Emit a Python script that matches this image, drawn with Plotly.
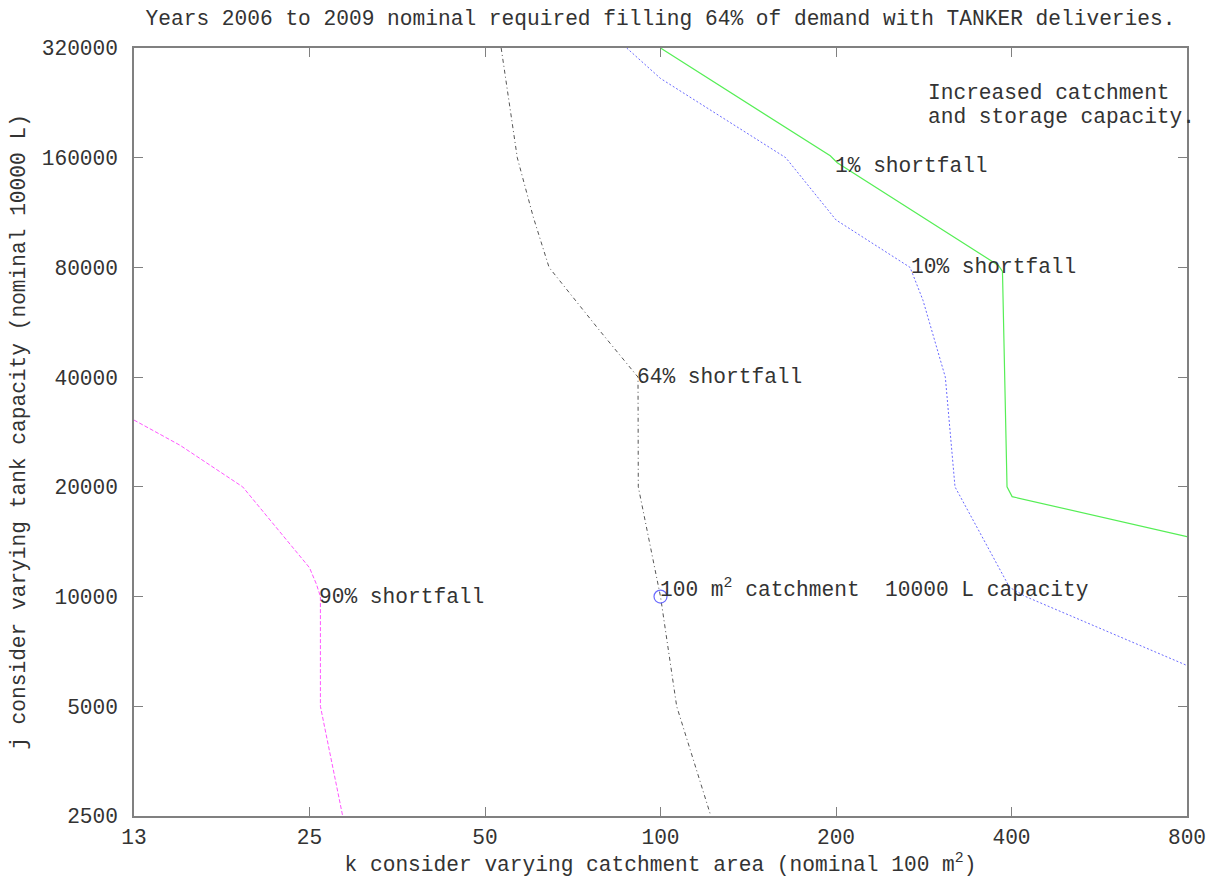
import math
import plotly.graph_objects as go

# ---- data ----
x_ticks = [12.5, 25, 50, 100, 200, 400, 800]
x_tick_text = ["13", "25", "50", "100", "200", "400", "800"]
y_ticks = [2500, 5000, 10000, 20000, 40000, 80000, 160000, 320000]
y_tick_text = ["2500", "5000", "10000", "20000", "40000", "80000", "160000", "320000"]

s90_x = [12.5, 15.0, 19.2, 25.0, 25.7, 26.1, 26.1, 28.5]
s90_y = [30500, 26000, 20000, 12000, 10800, 10000, 5000, 2500]

s64_x = [53.3, 54.9, 56.8, 60.5, 64.4, 78.4, 91.5, 91.6, 100, 106.6, 122]
s64_y = [320000, 230000, 160000, 110000, 80000, 54000, 40000, 20000, 10000, 5000, 2500]

s10_x = [87.5, 100, 164, 200, 268, 282, 308, 320, 397, 423, 800]
s10_y = [320000, 264000, 160000, 108000, 80000, 65000, 40000, 20000, 10600, 10000, 6470]

s1_x = [100, 195.5, 201, 380, 386, 393, 401, 800]
s1_y = [320000, 162000, 155000, 81000, 78000, 20000, 18800, 14600]

nominal_x = [100]
nominal_y = [10000]

label_x = [26.1, 91.5, 270, 200]
label_y = [10000, 40000, 80000, 152000]
label_text = ["90% shortfall", "64% shortfall", "10% shortfall", "1% shortfall"]

note_x = [285, 285]
note_y = [241000, 207000]
note_text = ["Increased catchment", "and storage capacity."]

FONT = "Liberation Mono, Courier New, monospace"
FS = 21.2
TXT = "#333333"
AX = "#808080"
L = math.log10

fig = go.Figure()
fig.add_trace(go.Scatter(x=s90_x, y=s90_y, mode="lines",
                         line=dict(color="#ff55ff", width=1, dash="4px,2px"), hoverinfo="skip"))
fig.add_trace(go.Scatter(x=s64_x, y=s64_y, mode="lines",
                         line=dict(color="#555555", width=1, dash="4px,3px,1px,3px"), hoverinfo="skip"))
fig.add_trace(go.Scatter(x=s10_x, y=s10_y, mode="lines",
                         line=dict(color="#6a6aff", width=1, dash="2px,2px"), hoverinfo="skip"))
fig.add_trace(go.Scatter(x=s1_x, y=s1_y, mode="lines",
                         line=dict(color="#55ee55", width=1.2, dash="solid"), hoverinfo="skip"))
fig.add_trace(go.Scatter(x=nominal_x, y=nominal_y, mode="markers",
                         marker=dict(symbol="circle-open", size=13, color="#6a6aff",
                                     line=dict(width=1.2, color="#6a6aff")), hoverinfo="skip"))

for lx, ly, lt in zip(label_x, label_y, label_text):
    fig.add_annotation(x=L(lx), y=L(ly), xref="x", yref="y", text=lt, showarrow=False,
                       xanchor="left", yanchor="middle", xshift=-3,
                       font=dict(family=FONT, size=FS, color=TXT))

fig.add_annotation(x=L(100), y=L(10000), xref="x", yref="y",
                   text="100 m<sup>2</sup> catchment\u00a0\u00a010000 L capacity",
                   showarrow=False, xanchor="left", yanchor="middle", xshift=-3, yshift=8,
                   font=dict(family=FONT, size=FS, color=TXT))

for nx, ny, nt in zip(note_x, note_y, note_text):
    fig.add_annotation(x=L(nx), y=L(ny), xref="x", yref="y", text=nt,
                       showarrow=False, xanchor="left", yanchor="middle",
                       font=dict(family=FONT, size=FS, color=TXT))

fig.update_layout(
    width=1207, height=885,
    margin=dict(l=134, r=20, t=48, b=69),
    paper_bgcolor="white", plot_bgcolor="white",
    showlegend=False,
    font=dict(family=FONT, size=FS, color=TXT),
    title=dict(text="Years 2006 to 2009 nominal required filling 64% of demand with TANKER deliveries.",
               x=0.5, xref="paper", y=1 - 18 / 885, yref="container", yanchor="middle",
               font=dict(family=FONT, size=FS, color=TXT)),
)
fig.update_xaxes(type="log", range=[L(12.5), L(800)], automargin=False,
                 tickvals=x_ticks, ticktext=x_tick_text,
                 ticks="inside", ticklen=9, tickcolor=AX, tickwidth=1.2,
                 showline=True, linecolor=AX, linewidth=1.5, mirror="allticks",
                 showgrid=False, zeroline=False, ticklabelstandoff=1,
                 title=dict(text="k consider varying catchment area (nominal 100 m<sup>2</sup>)",
                            standoff=2, font=dict(family=FONT, size=FS, color=TXT)))
fig.update_yaxes(type="log", range=[L(2500), L(320000)], automargin=False,
                 tickvals=y_ticks, ticktext=y_tick_text,
                 ticks="inside", ticklen=9, tickcolor=AX, tickwidth=1.2,
                 showline=True, linecolor=AX, linewidth=1.5, mirror="allticks",
                 showgrid=False, zeroline=False, ticklabelstandoff=10,
                 title=dict(text="j consider varying tank capacity (nominal 10000 L)",
                            standoff=10, font=dict(family=FONT, size=FS, color=TXT)))

fig.write_html("out.html",
               config={"displayModeBar": False},
               post_script="document.body.style.margin='0';document.body.style.overflow='hidden';")
